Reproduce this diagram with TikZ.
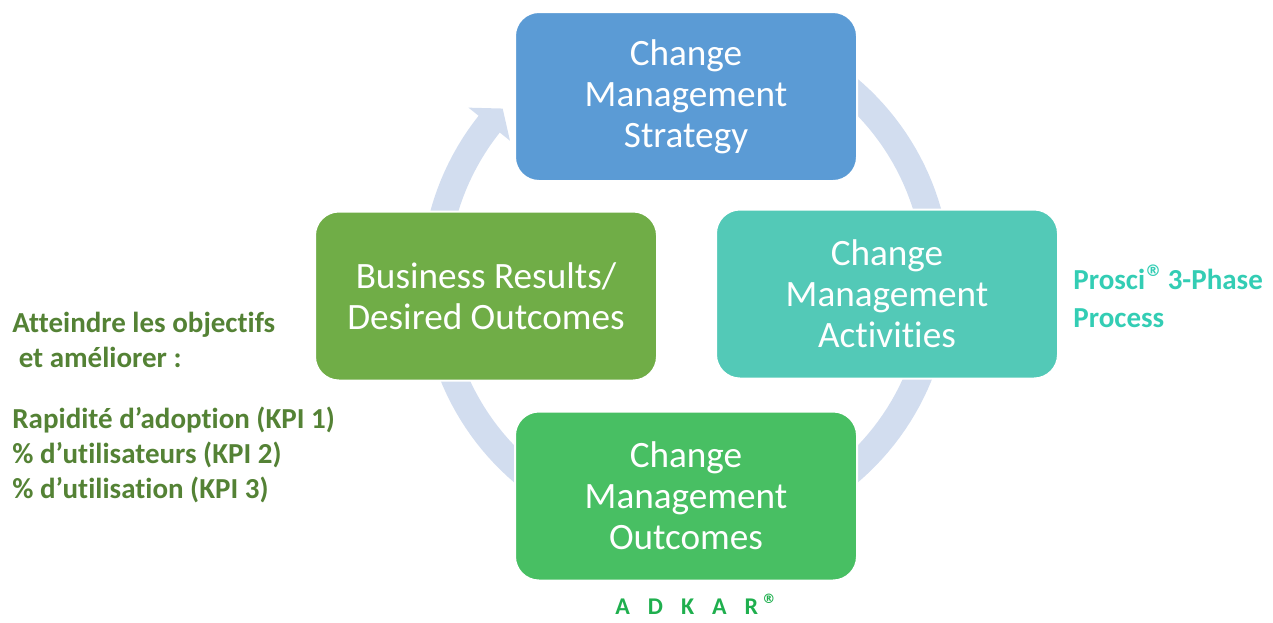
\documentclass[tikz,border=0pt]{standalone}
\usepackage{fontspec}
\setmainfont{Carlito}[Ligatures=NoCommon]
\newfontfamily\markfont{DejaVu Sans}
\definecolor{ringblue}{HTML}{D2DDEF}
\definecolor{stratblue}{HTML}{5B9BD5}
\definecolor{actteal}{HTML}{53C9B7}
\definecolor{outgreen}{HTML}{48BF63}
\definecolor{resgreen}{HTML}{70AD47}
\definecolor{kpigreen}{HTML}{548235}
\definecolor{proscteal}{HTML}{33CDB4}
\definecolor{adkargreen}{HTML}{1FAF4E}
\newcommand{\regmark}{\raisebox{0.42em}{\markfont\fontsize{8}{9}\selectfont ®}}
\begin{document}
\begin{tikzpicture}[x=0.5pt,y=-0.5pt,
  phase/.style={draw=white, line width=1pt, rounded corners=12pt,
    minimum width=171pt, minimum height=84.5pt, inner sep=0pt,
    align=center, text=white, font=\fontsize{18.6}{20.4}\selectfont},
  kpi/.style={anchor=base west, inner sep=0pt, text=kpigreen,
    font=\fontsize{14.5}{16}\selectfont\bfseries},
  prosci/.style={anchor=base west, inner sep=0pt, text=proscteal,
    font=\fontsize{14.5}{16}\selectfont\bfseries}]
\useasboundingbox (0,0) rectangle (1273,622);

% circular arrow running clockwise behind the four boxes
\fill[ringblue]
  plot[domain=-80:218.5, samples=150] ({686+265*cos(\x)},{280.7+265*sin(\x)})
  -- ({686+278*cos(218.5)},{280.7+278*sin(218.5)})
  -- ({686+251.5*cos(223.2)},{280.7+251.5*sin(223.2)})
  -- ({686+225*cos(218.5)},{280.7+225*sin(218.5)})
  -- plot[domain=218.5:-80, samples=150] ({686+238*cos(\x)},{280.7+238*sin(\x)})
  -- cycle;

% the four phases
\node[phase, fill=stratblue] (strategy) at (686,96.5) {Change\\Management\\Strategy};
\node[phase, fill=actteal] (activities) at (887,294) {Change\\Management\\Activities};
\node[phase, fill=outgreen] (outcomes) at (686,496) {Change\\Management\\Outcomes};
\node[phase, fill=resgreen] (results) at (486,296) {Business Results/\\Desired Outcomes};

% side notes
\node[kpi] (goal1) at (12,332) {Atteindre les objectifs};
\node[kpi] (goal2) at (12,367) {\hspace{0.22em}et améliorer :};
\node[kpi] (kpi1) at (12,428) {Rapidité d’adoption (KPI 1)};
\node[kpi] (kpi2) at (12,463) {\% d’utilisateurs (KPI 2)};
\node[kpi] (kpi3) at (12,498) {\% d’utilisation (KPI 3)};

\node[prosci] (pro1) at (1073,289) {Prosci\regmark{} 3-Phase};
\node[prosci] (pro2) at (1073,327) {Process};

\node[anchor=base west, inner sep=0pt, text=adkargreen,
  font=\fontsize{12}{13}\selectfont\bfseries] (adkar) at (615,614)
  {A\hspace{9pt}D\hspace{9pt}K\hspace{9pt}A\hspace{9pt}R\hspace{2pt}\raisebox{0.42em}{\markfont\fontsize{6.5}{7}\selectfont\bfseries ®}};
\end{tikzpicture}
\end{document}
